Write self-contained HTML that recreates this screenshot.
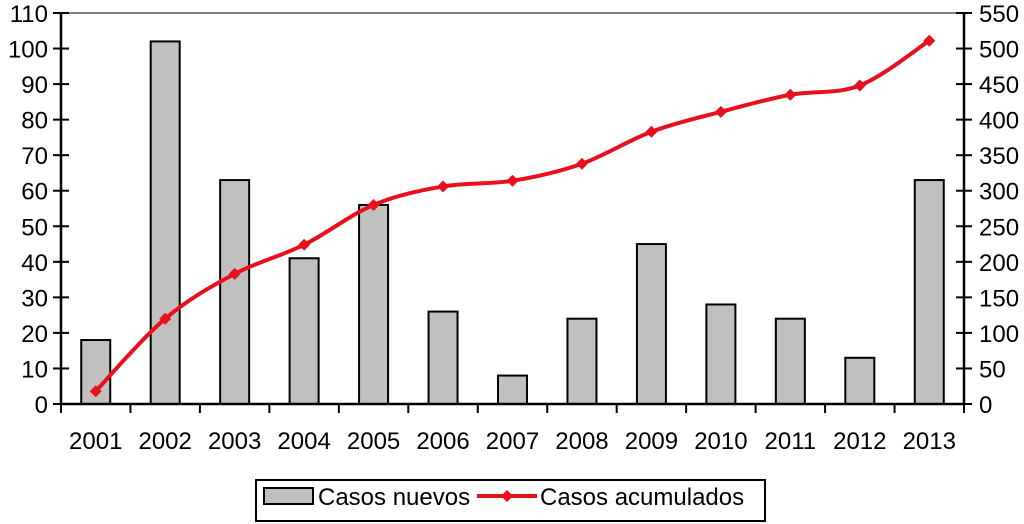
<!DOCTYPE html>
<html><head><meta charset="utf-8"><style>
body{margin:0;background:#fff;}
svg{display:block;font-family:"Liberation Sans",Arial,sans-serif;}
</style></head><body>
<svg id="c" width="1024" height="524"></svg>
<script>
const categories=["2001","2002","2003","2004","2005","2006","2007","2008","2009","2010","2011","2012","2013"];
const nuevos=[18,102,63,41,56,26,8,24,45,28,24,13,63];
const acumulados=[18,120,183,224,280,306,314,338,383,411,435,448,511];
const leftTicks=[0,10,20,30,40,50,60,70,80,90,100,110];
const rightTicks=[0,50,100,150,200,250,300,350,400,450,500,550];
const NS="http://www.w3.org/2000/svg";
const svg=document.getElementById('c');
const X0=61,X1=964,Y0=404,Y1=13;
const bw=(X1-X0)/categories.length;
const yL=v=>Y0-(v/110)*(Y0-Y1);
const yR=v=>Y0-(v/550)*(Y0-Y1);
const xc=i=>X0+bw*(i+0.5);
function el(t,a,p){const e=document.createElementNS(NS,t);for(const k in a)e.setAttribute(k,a[k]);(p||svg).appendChild(e);return e;}
let g=el('line',{x1:X0,y1:Y1,x2:X1,y2:Y1,stroke:'#808080','stroke-width':2});


nuevos.forEach((v,i)=>{
  const r=el('rect',{x:xc(i)-14.5,y:yL(v),width:29,height:Y0-yL(v),fill:'#c0c0c0',stroke:'#000','stroke-width':2});
  
  
});
let a=el('line',{x1:X0,y1:Y1,x2:X0,y2:Y0,stroke:'#000','stroke-width':2.5});


a=el('line',{x1:X1,y1:Y1,x2:X1,y2:Y0,stroke:'#000','stroke-width':2.5});


a=el('line',{x1:X0,y1:Y0,x2:X1,y2:Y0,stroke:'#000','stroke-width':2.5});


leftTicks.forEach(v=>{
  el('line',{x1:X0-8,y1:yL(v),x2:X0+8,y2:yL(v),stroke:'#000','stroke-width':2});
  const t=el('text',{x:X0-13,y:yL(v)+9,'text-anchor':'end','font-size':'24px'});
  t.textContent=v;
  
  
});
rightTicks.forEach(v=>{
  el('line',{x1:X1-8,y1:yR(v),x2:X1+8,y2:yR(v),stroke:'#000','stroke-width':2});
  const t=el('text',{x:X1+15,y:yR(v)+9,'text-anchor':'start','font-size':'24px'});
  t.textContent=v;
  
  
});
for(let i=0;i<=categories.length;i++){el('line',{x1:X0+bw*i,y1:Y0,x2:X0+bw*i,y2:Y0+9,stroke:'#000','stroke-width':2});}
categories.forEach((c,i)=>{
  const t=el('text',{x:xc(i),y:449,'text-anchor':'middle','font-size':'24px'});
  t.textContent=c;
  
  
});
const pts=acumulados.map((v,i)=>[xc(i),yR(v)]);
let d='M'+pts[0][0]+','+pts[0][1];
for(let i=0;i<pts.length-1;i++){
  const p0=pts[Math.max(0,i-1)],p1=pts[i],p2=pts[i+1],p3=pts[Math.min(pts.length-1,i+2)];
  const c1=[p1[0]+(p2[0]-p0[0])/6,p1[1]+(p2[1]-p0[1])/6],c2=[p2[0]-(p3[0]-p1[0])/6,p2[1]-(p3[1]-p1[1])/6];
  d+=` C${c1[0]},${c1[1]} ${c2[0]},${c2[1]} ${p2[0]},${p2[1]}`;
}
const ln=el('path',{d:d,fill:'none',stroke:'#e8101c','stroke-width':4});


pts.forEach((p,i)=>{
  const m=el('polygon',{points:`${p[0]},${p[1]-6} ${p[0]+6},${p[1]} ${p[0]},${p[1]+6} ${p[0]-6},${p[1]}`,fill:'#e8101c'});
  
  
});
const lg=el('g',{});


el('rect',{x:256,y:480,width:509,height:41,fill:'#fff',stroke:'#000','stroke-width':2},lg);
let s=el('rect',{x:264,y:488,width:49,height:16,fill:'#c0c0c0',stroke:'#000','stroke-width':2},lg);


let t=el('text',{x:318,y:505,'font-size':'24px'},lg);t.textContent='Casos nuevos';


el('line',{x1:477,y1:496,x2:537,y2:496,stroke:'#e8101c','stroke-width':4},lg);
el('polygon',{points:'507,490 513,496 507,502 501,496',fill:'#e8101c'},lg);
t=el('text',{x:540,y:505,'font-size':'24px'},lg);t.textContent='Casos acumulados';


</script>
</body></html>
